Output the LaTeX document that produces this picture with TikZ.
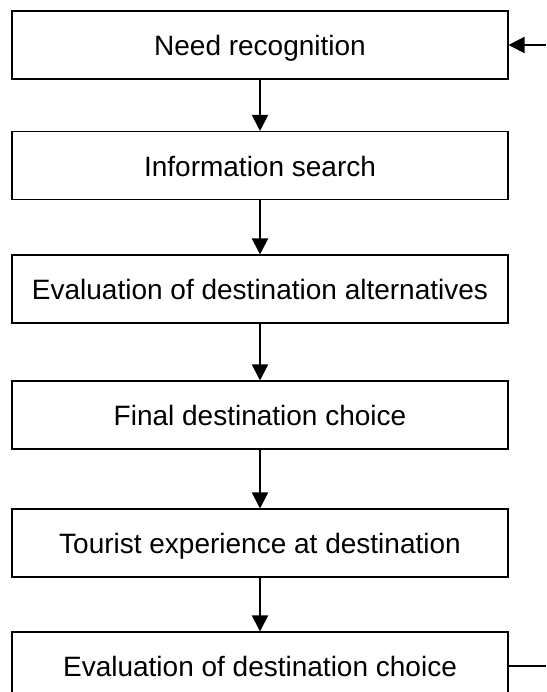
\documentclass[tikz,border=0pt]{standalone}
\usepackage{fontspec}
\setmainfont{Liberation Sans}
\usetikzlibrary{arrows.meta}
\begin{document}
\begin{tikzpicture}[x=0.75pt,y=-0.75pt,
  stage/.style={draw=black, line width=0.8pt, fill=white, inner sep=0pt,
    minimum width=372pt, minimum height=51pt,
    text height=16pt, text depth=0pt,
    font=\fontsize{21}{25}\selectfont},
  flow/.style={line width=1.5pt, -{Triangle[length=12pt,width=12pt]}},
  plain/.style={line width=1.5pt}]
  \useasboundingbox (0,0) rectangle (546,692);
  \clip (0,0) rectangle (546,692);

  % the six stages of the decision process
  \node[stage] (need) at (260,45)    {Need recognition};
  \node[stage] (info) at (260,165.5) {Information search};
  \node[stage] (eval) at (260,289)   {Evaluation of destination alternatives};
  \node[stage] (final) at (260,415)  {Final destination choice};
  \node[stage] (exp) at (260,543)    {Tourist experience at destination};
  \node[stage] (post) at (260,666)   {Evaluation of destination choice};

  % feedback line ends at the right margin
  \coordinate (fbin) at (546,45);
  \coordinate (fbout) at (546,666);

  \draw[flow] (need) -- (info);
  \draw[flow] (info) -- (eval);
  \draw[flow] (eval) -- (final);
  \draw[flow] (final) -- (exp);
  \draw[flow] (exp) -- (post);

  \draw[flow] (fbin) -- (need.east |- fbin);
  \draw[plain] (post.east |- fbout) -- (fbout);
\end{tikzpicture}
\end{document}
